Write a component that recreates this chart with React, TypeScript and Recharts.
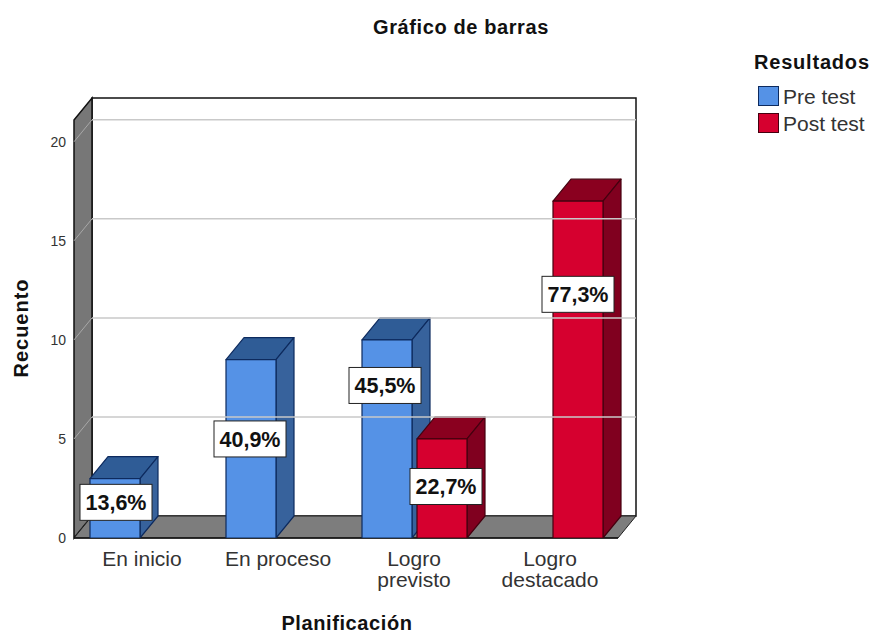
import {
  BarChart,
  Bar,
  XAxis,
  YAxis,
  Label,
  LabelList,
  Legend,
  ReferenceArea,
  ReferenceLine,
} from "recharts";

const categories = ["En inicio", "En proceso", "Logro previsto", "Logro destacado"];
const seriesNames = ["Pre test", "Post test"];
const preTest = [3, 9, 10, null];
const postTest = [null, null, 5, 17];
const prePercent = ["13,6%", "40,9%", "45,5%", null];
const postPercent = [null, null, "22,7%", "77,3%"];
// height of each percent box's centre, in axis units
const preLabelAt = [1.8, 5, 7.7, null];
const postLabelAt = [null, null, 2.6, 12.3];
const yTicks = [0, 5, 10, 15, 20];
const gridTicks = [5, 10, 15, 20];

const data = categories.map((name, i) => ({
  name,
  pre: preTest[i],
  post: postTest[i],
  preLabel: prePercent[i],
  postLabel: postPercent[i],
}));

const FONT = "'Liberation Sans', Arial, sans-serif";
const DX = 18;
const DY = 22;

const BLUE = { front: "#5592e6", top: "#2f5c96", side: "#37629c", line: "#0d2a5e" };
const RED = { front: "#d6002f", top: "#8a001f", side: "#80001f", line: "#45000f" };

function Walls({ x, y, width, height }: any) {
  const bottom = y + height;
  const right = x + width;
  return (
    <g>
      <rect x={x + DX} y={y - DY} width={width} height={height} fill="#fff" stroke="#111" strokeWidth={1.5} />
      <polygon
        points={`${x},${y} ${x + DX},${y - DY} ${x + DX},${bottom - DY} ${x},${bottom}`}
        fill="#777"
        stroke="#111"
        strokeWidth={1.5}
      />
      <polygon
        points={`${x},${bottom} ${x + DX},${bottom - DY} ${right + DX},${bottom - DY} ${right},${bottom}`}
        fill="#7d7d7d"
        stroke="#222"
        strokeWidth={1}
      />
      <line x1={x} y1={bottom} x2={right} y2={bottom} stroke="#111" strokeWidth={1.5} />
    </g>
  );
}

function GridLine({ x1, y1, x2 }: any) {
  return (
    <g>
      <line x1={x1} y1={y1} x2={x1 + DX} y2={y1 - DY} stroke="#a8a8a8" strokeWidth={1} />
      <line x1={x1 + DX} y1={y1 - DY} x2={x2 + DX} y2={y1 - DY} stroke="#c9c9c9" strokeWidth={1.5} />
    </g>
  );
}

function bar3d(colors: typeof BLUE) {
  return ({ x, y, width, height }: any) => {
    if (!height) return <g />;
    const r = x + width;
    const b = y + height;
    return (
      <g stroke={colors.line} strokeWidth={1.2} strokeLinejoin="round">
        <polygon points={`${x},${y} ${x + DX},${y - DY} ${r + DX},${y - DY} ${r},${y}`} fill={colors.top} />
        <polygon points={`${r},${y} ${r + DX},${y - DY} ${r + DX},${b - DY} ${r},${b}`} fill={colors.side} />
        <rect x={x} y={y} width={width} height={height} fill={colors.front} />
      </g>
    );
  };
}

function percentBox(labels: (string | null)[], values: (number | null)[], at: (number | null)[], dx: number[]) {
  return ({ x, y, width, height, value }: any) => {
    const i = labels.indexOf(value);
    if (value == null || i < 0 || !height) return <g />;
    const unit = height / (values[i] as number);
    const cx = x + width / 2 + dx[i];
    const cy = y + height - (at[i] as number) * unit;
    return (
      <g>
        <rect x={cx - 36} y={cy - 18} width={72} height={36} fill="#fff" stroke="#222" strokeWidth={1} />
        <text
          x={cx}
          y={cy + 8}
          textAnchor="middle"
          fontFamily={FONT}
          fontSize={21.5}
          fontWeight="bold"
          fill="#111"
        >
          {value}
        </text>
      </g>
    );
  };
}

function CategoryTick({ x, y, payload }: any) {
  const words = String(payload.value).split(" ");
  const lines = words[0] === "Logro" ? words : [payload.value];
  return (
    <text x={x} y={y + 20} textAnchor="middle" fontFamily={FONT} fontSize={21} fill="#333">
      {lines.map((line: string, i: number) => (
        <tspan key={line} x={x} dy={i === 0 ? 0 : 21}>
          {line}
        </tspan>
      ))}
    </text>
  );
}

function LegendBox({ payload }: any) {
  const items = [...(payload || [])].sort(
    (a: any, b: any) => seriesNames.indexOf(a.value) - seriesNames.indexOf(b.value),
  );
  return (
    <div style={{ fontFamily: FONT, color: "#333", width: 118 }}>
      <div
        style={{
          fontWeight: "bold",
          fontSize: 20,
          letterSpacing: 0.8,
          color: "#111",
          height: 32,
          lineHeight: "24px",
          whiteSpace: "nowrap",
        }}
      >
        Resultados
      </div>
      {items.map((entry: any) => (
        <div key={entry.value} style={{ display: "flex", alignItems: "center", height: 27, fontSize: 21 }}>
          <span
            style={{
              display: "inline-block",
              boxSizing: "border-box",
              width: 21,
              height: 20,
              marginLeft: 4,
              marginRight: 4,
              background: entry.color,
              border: `1.5px solid ${entry.value === seriesNames[0] ? BLUE.line : RED.line}`,
            }}
          />
          <span style={{ paddingTop: 3, whiteSpace: "nowrap" }}>{entry.value}</span>
        </div>
      ))}
    </div>
  );
}

export default function App() {
  return (
    <div style={{ position: "absolute", left: 0, top: 0, width: 872, height: 633, background: "#fff" }}>
      <BarChart
        width={872}
        height={633}
        data={data}
        margin={{ top: 120, right: 254, bottom: 0, left: 0 }}
        barSize={50}
        barGap={5}
        barCategoryGap={0}
      >
        <ReferenceArea shape={Walls} ifOverflow="visible" />
        {gridTicks.map((t) => (
          <ReferenceLine key={t} y={t} shape={GridLine} ifOverflow="visible" />
        ))}
        <XAxis
          dataKey="name"
          height={95}
          axisLine={false}
          tickLine={false}
          interval={0}
          tick={<CategoryTick />}
        >
          <Label
            content={() => (
              <text
                x={347}
                y={630}
                textAnchor="middle"
                fontFamily={FONT}
                fontSize={20}
                fontWeight="bold"
                letterSpacing={0.6}
                fill="#111"
              >
                Planificación
              </text>
            )}
          />
        </XAxis>
        <YAxis
          width={74}
          domain={[0, 21.1]}
          ticks={yTicks}
          allowDataOverflow
          axisLine={false}
          tickLine={false}
          tickSize={0}
          tickMargin={8}
          tick={{ fontFamily: FONT, fontSize: 14, fill: "#333" }}
        >
          <Label
            content={() => (
              <text
                x={28}
                y={328}
                transform="rotate(-90 28 328)"
                textAnchor="middle"
                fontFamily={FONT}
                fontSize={20}
                fontWeight="bold"
                letterSpacing={1}
                fill="#111"
              >
                Recuento
              </text>
            )}
          />
        </YAxis>
        <Bar dataKey="pre" name={seriesNames[0]} fill={BLUE.front} shape={bar3d(BLUE)} isAnimationActive={false}>
          <LabelList dataKey="preLabel" content={percentBox(prePercent, preTest, preLabelAt, [1, -1, -2, 0])} />
        </Bar>
        <Bar dataKey="post" name={seriesNames[1]} fill={RED.front} shape={bar3d(RED)} isAnimationActive={false}>
          <LabelList dataKey="postLabel" content={percentBox(postPercent, postTest, postLabelAt, [0, 0, 4, 0])} />
        </Bar>
        <Legend
          layout="vertical"
          align="center"
          verticalAlign="middle"
          content={<LegendBox />}
          wrapperStyle={{ left: 754, top: 50, width: 118 }}
        />
        <text
          x={461}
          y={34}
          textAnchor="middle"
          fontFamily={FONT}
          fontSize={20}
          fontWeight="bold"
          letterSpacing={0.6}
          fill="#111"
        >
          Gráfico de barras
        </text>
      </BarChart>
    </div>
  );
}
